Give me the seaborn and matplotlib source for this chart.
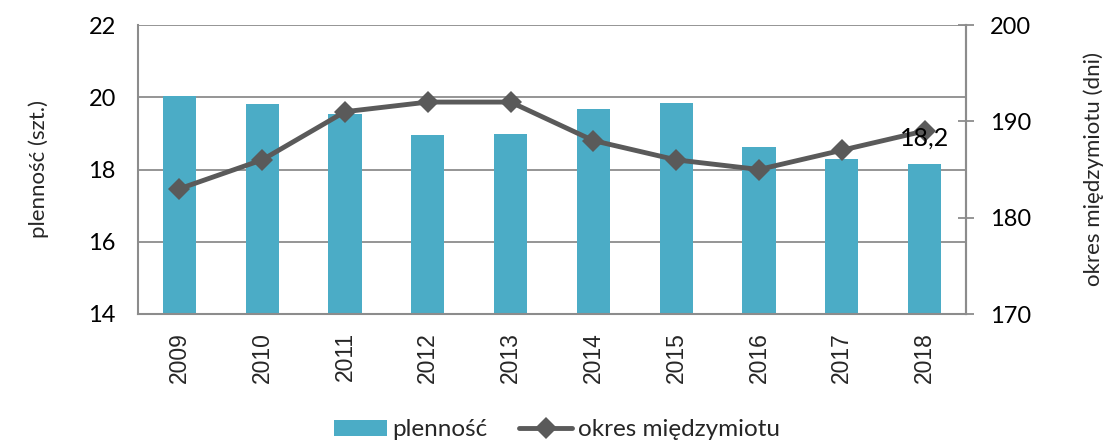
import matplotlib
matplotlib.use("Agg")
import matplotlib.pyplot as plt
import seaborn as sns
import numpy as np
import pandas as pd
from matplotlib.patches import Patch
from matplotlib.lines import Line2D

years = ["2009", "2010", "2011", "2012", "2013", "2014", "2015", "2016", "2017", "2018"]
plennosc = [20.03, 19.8, 19.54, 18.96, 18.98, 19.68, 19.85, 18.63, 18.28, 18.15]
okres = [183, 186, 191, 192, 192, 188, 186, 185, 187, 189]
label_left = "plenność (szt.)"
label_right = "okres międzymiotu (dni)"
legend_bar = "plenność"
legend_line = "okres międzymiotu"
data_label = "18,2"

sns.set_theme(style="white")
plt.rcParams['font.family'] = ['Lato', 'DejaVu Sans']

BAR = "#4BACC6"
LINE = "#5A5A5A"
GRID = "#8C8C8C"

fig = plt.figure(figsize=(11.14, 4.43), dpi=100)
ax = fig.add_axes([138/1114, 1-314/443, (966-138)/1114, (314-25)/443])

df = pd.DataFrame({"year": years, "plennosc": plennosc, "okres": okres})
sns.barplot(data=df, x="year", y="plennosc", color=BAR, width=0.4, ax=ax,
            saturation=1, edgecolor="none", zorder=2)
ax.set_ylim(14, 22)
ax.set_xlim(-0.5, len(years) - 0.5)
ax.set_yticks([14, 16, 18, 20, 22])
ax.yaxis.grid(True, color=GRID, lw=1.3, zorder=0)
ax.set_axisbelow(True)
ax.set_xlabel("")
ax.set_ylabel(label_left, fontsize=16, labelpad=28)
ax.tick_params(axis="y", length=0, pad=16, labelsize=17, labelcolor="black")
ax.tick_params(axis="x", length=0, pad=13, labelsize=16.5, labelrotation=90)
for lab in ax.get_xticklabels():
    lab.set_family(["Liberation Sans", "DejaVu Sans"])
for side in ["top"]:
    ax.spines[side].set_visible(False)
for side in ["left", "bottom", "right"]:
    ax.spines[side].set_color(GRID)
    ax.spines[side].set_linewidth(1.5)

ax2 = ax.twinx()
sns.lineplot(x=np.arange(len(years)), y=okres, ax=ax2, color=LINE, lw=3.5,
             marker="D", markersize=11, markeredgewidth=0, zorder=3)
ax2.set_ylim(170, 200)
ax2.set_yticks([170, 180, 190, 200])
ax2.set_xlim(-0.5, len(years) - 0.5)
ax2.tick_params(axis="y", direction="inout", length=12, width=1.3, color=GRID,
                pad=11, labelsize=17, labelcolor="black", right=True)
ax2.set_ylabel(label_right, fontsize=16, labelpad=38)
for side in ["top", "left", "bottom"]:
    ax2.spines[side].set_visible(False)
ax2.spines["right"].set_color(GRID)
ax2.spines["right"].set_linewidth(1.5)
ax2.grid(False)

ax2.annotate(data_label, xy=(len(years) - 1, okres[-1]), xytext=(0, -5),
             textcoords="offset points", ha="center", va="center",
             fontsize=18, color="black", zorder=5)

handles = [Patch(facecolor=BAR, edgecolor="none"),
           Line2D([0], [0], color=LINE, lw=3.5, marker="D", markersize=11, markeredgewidth=0)]
fig.legend(handles, [legend_bar, legend_line], loc="center",
           bbox_to_anchor=(557/1114, 1-430/443), ncol=2, frameon=False,
           fontsize=17.5, handlelength=2.15, handleheight=0.6, handletextpad=0.25,
           columnspacing=1.3)

fig.savefig("out.png", dpi=100)
